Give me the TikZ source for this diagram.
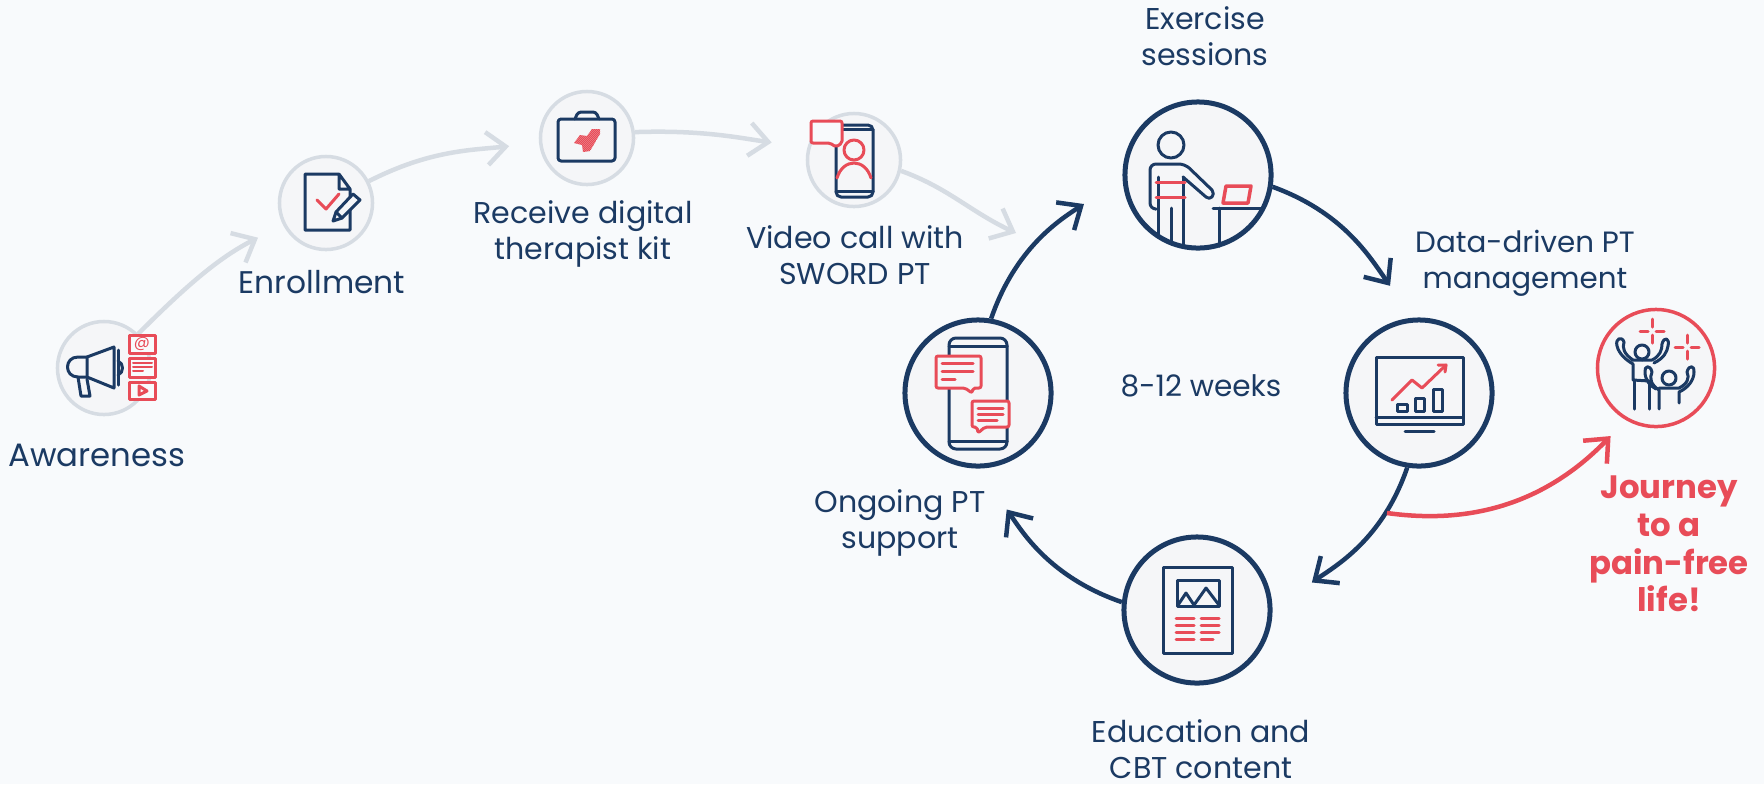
\documentclass[tikz,border=0pt]{standalone}
\usepackage{fontspec}
\setmainfont{Poppins}
\usetikzlibrary{arrows.meta}
\definecolor{navy}{HTML}{1B3A63}
\definecolor{redline}{HTML}{E84C58}
\definecolor{grayline}{HTML}{D6DCE3}
\definecolor{pagebg}{HTML}{F8FAFC}
\definecolor{discbg}{HTML}{F5F6F8}
\tikzset{
	smalldisc/.style={circle, draw=grayline, fill=discbg, line width=0.035cm, minimum size=0.93cm, inner sep=0pt},
	bigdisc/.style={circle, draw=navy, fill=discbg, line width=0.05cm, minimum size=1.46cm, inner sep=0pt},
	joydisc/.style={circle, draw=redline, fill=discbg, line width=0.035cm, minimum size=1.17cm, inner sep=0pt},
	graylink/.style={grayline, line width=0.045cm, -{Straight Barb[length=0.19cm,width=0.33cm]}},
	navylink/.style={navy, line width=0.045cm, -{Straight Barb[length=0.19cm,width=0.33cm]}},
	redlink/.style={redline, line width=0.045cm, -{Straight Barb[length=0.19cm,width=0.33cm]}},
	lbl/.style={text=navy, align=center, inner sep=0pt, font=\fontsize{8.55}{10.3}\selectfont},
	biglbl/.style={text=navy, align=center, inner sep=0pt, font=\fontsize{9.2}{11}\selectfont},
	redlbl/.style={text=redline, align=center, inner sep=0pt, font=\fontsize{9.2}{10.75}\selectfont\bfseries},
	navyicon/.style={navy, line width=0.03cm, line join=round, line cap=round},
	redicon/.style={redline, line width=0.03cm, line join=round, line cap=round},
}
\begin{document}
\begin{tikzpicture}[x=0.01cm,y=-0.01cm]
	\fill[pagebg] (0,0) rectangle (1764,784);
	\useasboundingbox (0,0) rectangle (1764,784);

	% journey discs
	\node[smalldisc] (aware) at (104,368) {};
	\node[smalldisc] (enroll) at (326,203) {};
	\node[smalldisc] (kit) at (587,138) {};
	\node[smalldisc] (video) at (854,160) {};
	\node[bigdisc] (exercise) at (1198,175) {};
	\node[bigdisc] (data) at (1419,393) {};
	\node[bigdisc] (education) at (1197,610) {};
	\node[bigdisc] (ongoing) at (978,393) {};
	\node[joydisc] (joy) at (1656,368) {};
	\coordinate (entry) at (1016,233);
	\coordinate (leave) at (1387,513);

	% links
	\draw[graylink, shorten >=0.28cm] (aware.45) to[out=45,in=207] (enroll);
	\draw[graylink, shorten >=0.3cm] (enroll.27) to[out=27,in=186] (kit);
	\draw[graylink, shorten >=0.36cm] (kit.7) to[out=2,in=172] (video.165);
	\draw[graylink] (video.-13) to[out=-20,in=155] (entry);
	\draw[navylink, shorten >=0.39cm] (exercise.-9) to[out=-20,in=125] (data.95);
	\draw[navylink, shorten >=0.48cm] (data.-99) to[out=-109,in=35] (education.0);
	\draw[navylink, shorten >=0.5cm] (education.174) to[out=161,in=-55] (ongoing.270);
	\draw[navylink, shorten >=0.46cm] (ongoing.80) to[out=71,in=213] (exercise.183);
	\draw[redlink, shorten >=0.22cm] (leave) to[out=-8,in=226] (joy.240);

	% labels
	\node[biglbl] (awarelbl) at (97,455) {Awareness};
	\node[lbl, font=\fontsize{8.9}{10.3}\selectfont] (enrolllbl) at (322,282) {Enrollment};
	\node[lbl] (kitlbl) at (583,234) {Receive digital\\therapist kit};
	\node[lbl] (videolbl) at (855,255) {Video call with\\SWORD PT};
	\node[lbl] (exerciselbl) at (1205,36) {Exercise\\sessions};
	\node[lbl, font=\fontsize{8.35}{10.3}\selectfont] (datalbl) at (1525,263) {Data-driven PT\\management};
	\node[lbl, font=\fontsize{8.4}{10.3}\selectfont] (weekslbl) at (1201,386) {8-12 weeks};
	\node[lbl] (ongoinglbl) at (900,523) {Ongoing PT\\support};
	\node[lbl] (educationlbl) at (1201,749) {Education and\\CBT content};
	\node[redlbl] (joylbl) at (1669,544) {Journey\\to a\\pain-free\\life!};

	% awareness icon
	\draw[navyicon] (87,357) -- (114,347) -- (114,388) -- (87,377) -- cycle;
	\draw[navyicon] (87,357) -- (78,357) .. controls (64,357) and (64,377) .. (78,377) -- (87,377);
	\draw[navyicon] (78,377) -- (81,396) -- (90,396) -- (87,379);
	\draw[navyicon] (118,350) -- (118,385);
	\draw[navyicon] (118,361) .. controls (124,363) and (124,373) .. (118,375);
	\foreach \top/\bot in {335/353,358/377,382/399}
	\draw[redicon, fill=pagebg] (129,\top) rectangle (155,\bot);
	\node[text=redline, inner sep=0pt, font=\fontsize{4.5}{5}\selectfont] (atsign) at (142,344) {@};
	\foreach \y/\xend in {363/152,367/152,371/143}
	\draw[redicon, line width=0.02cm] (133,\y) -- (\xend,\y);
	\draw[redicon] (139,386) -- (147,391) -- (139,395) -- cycle;

	% enrollment icon
	\draw[navyicon] (339,174) -- (305,174) -- (305,230) -- (350,230) -- (350,189) -- (339,174) -- (339,189) -- (350,189);
	\draw[redicon] (317,200) -- (326,209) -- (339,194);
	\draw[navyicon, fill=discbg] (333,221) -- (336,212) -- (353,194) -- (360,200) -- (342,218) -- cycle;
	\draw[navyicon] (336,212) -- (342,218);

	% kit icon
	\draw[navyicon, rounded corners=0.03cm] (575,119) -- (578,112) -- (596,112) -- (599,119);
	\draw[navyicon, rounded corners=0.03cm] (558,119) rectangle (615,161);
	\begin{scope}
	\clip (592,129) -- (600,129) -- (600,134) -- (590,151) -- (583,152) -- (582,145) -- (574,143) -- (580,135) -- (587,136) -- cycle;
	\foreach \x in {540,542,...,610}
	\draw[redline, line width=0.011cm] (\x,160) -- (\x+40,120);
	\end{scope}

	% video icon
	\draw[navyicon, rounded corners=0.05cm] (836,125) rectangle (873,197);
	\draw[navyicon] (836,129) -- (873,129);
	\draw[navyicon] (836,191) -- (873,191);
	\draw[redicon] (854,150) circle [radius=10];
	\draw[redicon] (837,178) .. controls (843,158) and (865,158) .. (871,178);
	\draw[redicon, fill=pagebg, rounded corners=0.02cm] (811,121) -- (842,121) -- (842,143) -- (836,147) -- (830,143) -- (811,143) -- cycle;

	% exercise icon
	\draw[navyicon] (1171,145) circle [radius=13];
	\draw[navyicon, rounded corners=0.06cm] (1155,209) -- (1150,209) -- (1150,164) -- (1185,164) -- (1212,190);
	\draw[navyicon] (1212,190) .. controls (1216,195) and (1210,201) .. (1206,197) -- (1183,177);
	\draw[navyicon] (1183,177) -- (1183,247);
	\draw[navyicon] (1158,177) -- (1158,237);
	\draw[navyicon] (1171,208) -- (1171,244);
	\draw[navyicon] (1213,208) -- (1263,208);
	\draw[navyicon] (1219,208) -- (1219,246);
	\draw[redicon] (1156,182) -- (1185,182);
	\draw[redicon] (1156,197) -- (1185,197);
	\draw[redicon, line width=0.035cm] (1226,186) -- (1251,186) -- (1248,203) -- (1223,203) -- cycle;

	% data icon
	\draw[navyicon] (1376,357) rectangle (1463,424);
	\draw[navyicon] (1376,417) -- (1463,417);
	\draw[navyicon] (1405,431) -- (1434,431);
	\foreach \xa/\xb/\ytop in {1397/1407/404,1415/1424/398,1433/1442/389}
	\draw[navyicon] (\xa,\ytop) rectangle (\xb,411);
	\draw[redicon] (1392,400) -- (1412,380) -- (1422,388) -- (1446,365);
	\draw[redicon] (1438,365) -- (1446,365) -- (1445,372);

	% joy icon
	\draw[navyicon] (1642,352) circle [radius=7];
	\draw[navyicon] (1642,360) -- (1633,360) .. controls (1624,354) and (1622,348) .. (1624,342) .. controls (1622,336) and (1615,338) .. (1617,346) .. controls (1619,354) and (1626,360) .. (1633,364) -- (1633,380) -- (1649,381);
	\draw[navyicon] (1642,360) -- (1652,360) .. controls (1660,356) and (1662,350) .. (1662,344) .. controls (1664,336) and (1670,338) .. (1668,346) .. controls (1667,352) and (1664,358) .. (1654,363);
	\draw[navyicon] (1634,380) -- (1634,409);
	\draw[navyicon] (1649,381) -- (1649,409);
	\draw[navyicon] (1669,378) circle [radius=7];
	\draw[navyicon] (1659,409) -- (1659,390) .. controls (1651,385) and (1649,378) .. (1652,372) .. controls (1650,364) and (1644,366) .. (1645,372) .. controls (1645,380) and (1650,386) .. (1656,389);
	\draw[navyicon] (1659,388) -- (1679,388) .. controls (1687,384) and (1690,378) .. (1687,372) .. controls (1689,364) and (1695,366) .. (1694,372) .. controls (1694,380) and (1688,388) .. (1679,392) -- (1679,403);
	\foreach \cx/\cy in {1652/331,1687/347} {
	\draw[redicon] (\cx-12,\cy) -- (\cx-4,\cy);
	\draw[redicon] (\cx+4,\cy) -- (\cx+12,\cy);
	\draw[redicon] (\cx,\cy-12) -- (\cx,\cy-4);
	\draw[redicon] (\cx,\cy+4) -- (\cx,\cy+12);
	}

	% education icon
	\draw[navyicon] (1163,567) rectangle (1232,653);
	\draw[navyicon] (1177,580) rectangle (1219,606);
	\draw[navyicon] (1178,605) -- (1186,593) -- (1194,605) -- (1206,588) -- (1219,605);
	\foreach \y in {618,625,632,639}
	\draw[redicon] (1176,\y) -- (1194,\y);
	\foreach \y/\xend in {618/1219,625/1219,632/1219,639/1213}
	\draw[redicon] (1201,\y) -- (\xend,\y);

	% ongoing icon
	\draw[navyicon, rounded corners=0.07cm] (949,338) rectangle (1007,449);
	\draw[navyicon] (949,346) -- (1007,346);
	\draw[navyicon] (949,441) -- (1007,441);
	\draw[redicon, fill=discbg, rounded corners=0.02cm] (936,356) -- (981,356) -- (981,388) -- (973,388) -- (972,393) -- (965,388) -- (936,388) -- cycle;
	\foreach \y/\xend in {363/973,371/973,379/955}
	\draw[redicon] (942,\y) -- (\xend,\y);
	\draw[redicon, fill=discbg, rounded corners=0.02cm] (972,401) -- (1009,401) -- (1009,427) -- (985,427) -- (978,433) -- (977,427) -- (972,427) -- cycle;
	\foreach \y/\xend in {408/1003,414/1003,420/997}
	\draw[redicon] (978,\y) -- (\xend,\y);
\end{tikzpicture}
\end{document}
